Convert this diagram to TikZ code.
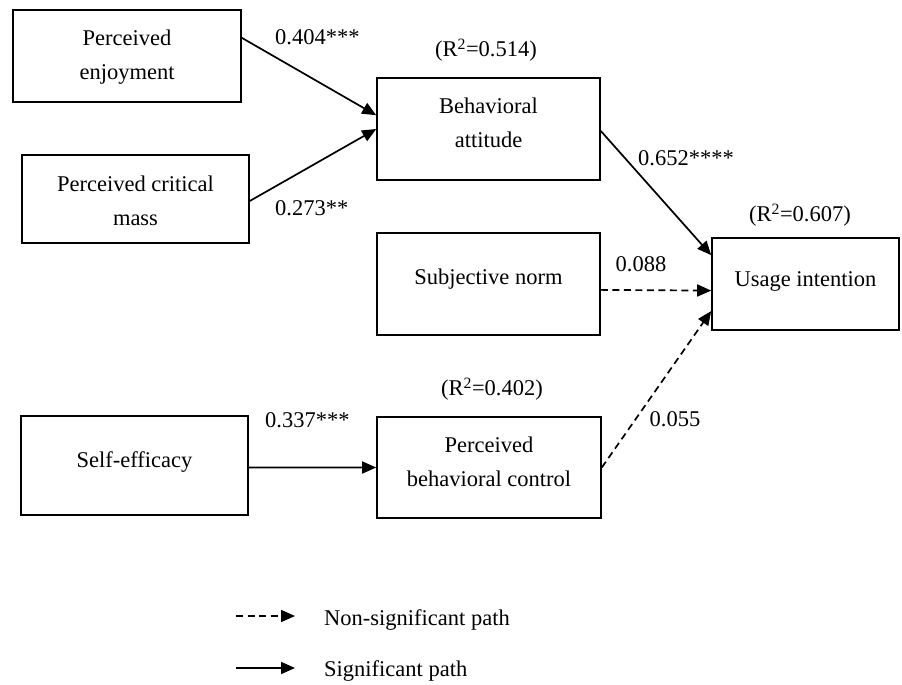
\documentclass[tikz,border=0pt]{standalone}
\usepackage{fontspec}
\setmainfont{Liberation Serif}
\usetikzlibrary{arrows.meta, calc}

\tikzset{
    box/.style={draw, line width=1.6pt, inner sep=0pt},
    txt/.style={align=center, inner sep=0pt},
    path/.style={line width=1.7pt, -{Triangle[length=14pt,width=12pt]}},
    nspath/.style={path, dash pattern=on 7pt off 4.5pt},
}

\begin{document}
\begin{tikzpicture}[x=1pt, y=-1pt, every node/.style={font=\fontsize{22.5}{34}\selectfont}]
        \useasboundingbox (0,0) rectangle (902,685);

        % constructs
        \node[box, minimum width=228, minimum height=92] (pe) at (127,56) {};
        \node[txt] (petxt) at (127,57) {Perceived\\enjoyment};
        \node[box, minimum width=227, minimum height=88] (pcm) at (135.5,199) {};
        \node[txt] (pcmtxt) at (135.5,201) {Perceived critical\\mass};
        \node[box, minimum width=223, minimum height=102] (ba) at (488.5,129) {};
        \node[txt] (batxt) at (488.5,123) {Behavioral\\attitude};
        \node[box, minimum width=223, minimum height=102] (sn) at (488.5,284) {};
        \node[txt] (sntxt) at (488.5,279) {Subjective norm};
        \node[box, minimum width=187, minimum height=92] (ui) at (805.5,284) {};
        \node[txt] (uitxt) at (805.5,281) {Usage intention};
        \node[box, minimum width=227, minimum height=99] (se) at (134.5,465.5) {};
        \node[txt] (setxt) at (134.5,462) {Self-efficacy};
        \node[box, minimum width=224, minimum height=101] (pbc) at (489,467.5) {};
        \node[txt] (pbctxt) at (489,462) {Perceived\\behavioral control};

        % explained variance
        \node (rba) at (486,50) {(R\textsuperscript{2}=0.514)};
        \node (rui) at (800,215) {(R\textsuperscript{2}=0.607)};
        \node (rpbc) at (492,389) {(R\textsuperscript{2}=0.402)};

        % paths
        \draw[path] (pe.9.5) -- (ba.173.9);
        \draw[path] (pcm.-1.5) -- (ba.180.5);
        \draw[path] (ba.-1) -- (ui.163.9);
        \draw[nspath] (sn.-3.6) -- (ui.184.3);
        \draw[nspath] (pbc.east) -- (ui.196.7);
        \draw[path] (se.-1.8) -- (pbc.180.8);

        % coefficients
        \node[anchor=west, inner sep=0pt] (cpe) at (275,37) {0.404***};
        \node[anchor=west, inner sep=0pt] (cpcm) at (275,208) {0.273**};
        \node[anchor=west, inner sep=0pt] (cba) at (638,158) {0.652****};
        \node (csn) at (641,264) {0.088};
        \node (cpbc) at (675,419) {0.055};
        \node[anchor=west, inner sep=0pt] (cse) at (265,420) {0.337***};

        % legend
        \coordinate (nsA) at (236,616);
        \coordinate (nsB) at (295,616);
        \coordinate (sA) at (236,668);
        \coordinate (sB) at (295,668);
        \draw[nspath] (nsA) -- (nsB);
        \draw[path] (sA) -- (sB);
        \node[anchor=west, inner sep=0pt] (nstxt) at (324,620) {Non-significant path};
        \node[anchor=west, inner sep=0pt] (stxt) at (324,671) {Significant path};
    \end{tikzpicture}
\end{document}
